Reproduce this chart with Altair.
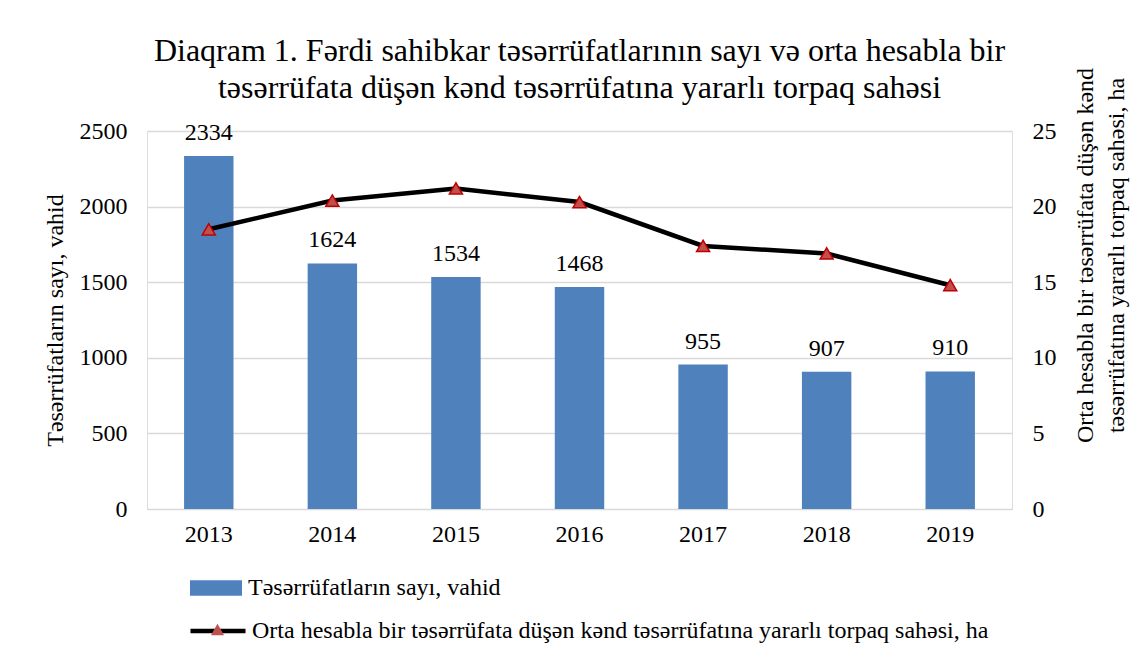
import altair as alt
import pandas as pd

years = ["2013", "2014", "2015", "2016", "2017", "2018", "2019"]
counts = [2334, 1624, 1534, 1468, 955, 907, 910]
areas = [18.5, 20.4, 21.2, 20.3, 17.4, 16.9, 14.8]
left_ticks = [0, 500, 1000, 1500, 2000, 2500]
right_ticks = [0, 5, 10, 15, 20, 25]
bar_name = "Təsərrüfatların sayı, vahid"
line_name = "Orta hesabla bir təsərrüfata düşən kənd təsərrüfatına yararlı torpaq sahəsi, ha"
title_lines = [
    "Diaqram 1. Fərdi sahibkar təsərrüfatlarının sayı və orta hesabla bir",
    "təsərrüfata düşən kənd təsərrüfatına yararlı torpaq sahəsi",
]
left_title = "Təsərrüfatların sayı, vahid"
right_title = ["Orta hesabla bir təsərrüfata düşən kənd", "təsərrüfatına yararlı torpaq sahəsi, ha"]

df = pd.DataFrame({
    "year": years,
    "count": counts,
    "area": areas,
    "bar_series": [bar_name] * len(years),
    "line_series": [line_name] * len(years),
    "pt_series": [line_name] * len(years),
})

FONT = "Liberation Serif"
FS = 24
W, H = 865, 378
BLUE = "#4F81BD"
GRID = "#D9D9D9"

x_enc = alt.X(
    "year:N", sort=years,
    scale=alt.Scale(paddingInner=0.6, paddingOuter=0.3),
    axis=alt.Axis(title=None, labelAngle=0, labelFontSize=FS, labelPadding=13,
                  ticks=False, domain=False, grid=False, labelFont=FONT, labelColor="black"),
)

y_left = alt.Y(
    "count:Q",
    scale=alt.Scale(domain=[0, 2500], nice=False),
    axis=alt.Axis(
        title=left_title, values=left_ticks, format="d", grid=True, gridColor=GRID, gridWidth=1.5,
        domain=False, ticks=False, labelPadding=20, labelFontSize=FS, labelFont=FONT,
        labelColor="black", titleFont=FONT, titleFontSize=FS, titleFontWeight="normal",
        titleColor="black", titleAngle=270, titleX=-92, titleY=189,
        titleAlign="center", titleBaseline="middle",
    ),
)

bars = alt.Chart(df).mark_bar(color=BLUE).encode(
    x=x_enc,
    y=y_left,
    color=alt.Color(
        "bar_series:N",
        scale=alt.Scale(range=[BLUE]),
        legend=alt.Legend(
            orient="none", legendX=43, legendY=431, title=None, padding=0,
            symbolType="M-1,-0.3H1V0.3H-1Z", symbolSize=2704, symbolStrokeWidth=0,
            symbolOpacity=1, labelFont=FONT, labelFontSize=FS, labelColor="black",
            labelOffset=6, labelLimit=1000,
        ),
    ),
)

labels = alt.Chart(df).mark_text(
    font=FONT, fontSize=FS, color="black", baseline="middle", dy=-23
).encode(x=alt.X("year:N", sort=years), y=alt.Y("count:Q"), text=alt.Text("count:Q"))

y_right = alt.Y(
    "area:Q",
    scale=alt.Scale(domain=[0, 25], nice=False),
    axis=alt.Axis(
        orient="right", title=right_title, values=right_ticks, grid=False,
        domain=False, ticks=False, labelPadding=20, labelFontSize=FS, labelFont=FONT,
        labelColor="black", titleFont=FONT, titleFontSize=FS, titleFontWeight="normal",
        titleColor="black", titleAngle=270, titleX=73, titleY=124,
        titleAlign="center", titleBaseline="middle", titleLineHeight=31,
    ),
)

line = alt.Chart(df).mark_line(strokeWidth=4.5).encode(
    x=alt.X("year:N", sort=years),
    y=y_right,
    stroke=alt.Stroke(
        "line_series:N",
        scale=alt.Scale(range=["#000000"]),
        legend=alt.Legend(
            orient="none", legendX=41, legendY=470, title=None, padding=0,
            symbolType="stroke", symbolSize=3025, symbolStrokeWidth=4.5,
            symbolStrokeColor="black", labelFont=FONT, labelFontSize=FS,
            labelColor="black", labelOffset=4, labelLimit=1000,
        ),
    ),
)

points = alt.Chart(df).mark_point(
    filled=True, fill="#C0504D", stroke="#C00000", strokeWidth=1.5, size=170, opacity=1
).encode(
    x=alt.X("year:N", sort=years),
    y=alt.Y("area:Q"),
    shape=alt.Shape(
        "pt_series:N",
        scale=alt.Scale(range=["triangle-up"]),
        legend=alt.Legend(
            orient="none", legendX=63, legendY=491, title=None, padding=0,
            symbolSize=170, symbolFillColor="#C0504D", symbolStrokeColor="#C00000",
            symbolStrokeWidth=1.5, symbolOpacity=1, labelExpr="''",
        ),
    ),
)

left_layer = alt.layer(bars, labels)
right_layer = alt.layer(line, points)

chart = alt.layer(left_layer, right_layer).resolve_scale(
    y="independent", color="independent", stroke="independent", shape="independent"
).properties(
    width=W, height=H,
    title=alt.TitleParams(
        text=title_lines, font=FONT, fontSize=32, fontWeight="normal", color="black",
        anchor="middle", frame="group", lineHeight=37, offset=-38,
    ),
    autosize=alt.AutoSizeParams(type="none"),
    padding={"left": 139, "top": 123, "right": 128, "bottom": 144},
).configure_view(stroke=None).configure(background="white")

chart.save("out.html", embed_options={"renderer": "svg", "actions": False})
